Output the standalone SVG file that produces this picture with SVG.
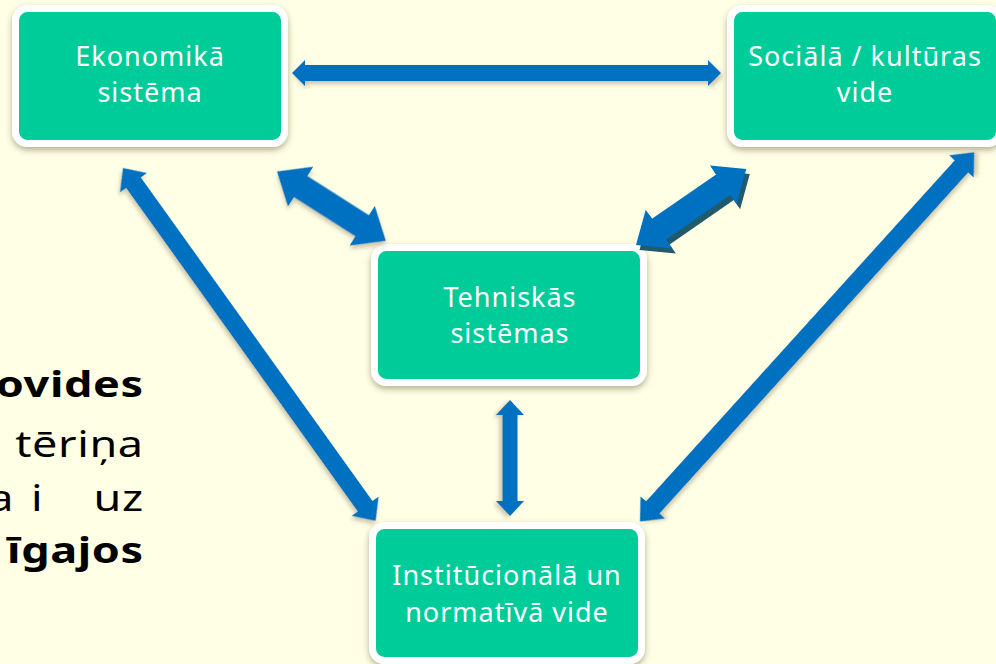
<svg xmlns="http://www.w3.org/2000/svg" width="996" height="664" viewBox="0 0 996 664">
  <defs>
    <filter id="nodeShadow" x="-10%" y="-10%" width="120%" height="130%">
      <feDropShadow dx="0" dy="3" stdDeviation="3" flood-color="#5a4a2a" flood-opacity="0.45"/>
    </filter>
    <filter id="arrowShadow" x="-10%" y="-10%" width="120%" height="120%">
      <feDropShadow dx="2" dy="3" stdDeviation="2" flood-color="#6b5d3a" flood-opacity="0.35"/>
    </filter>
  </defs>
  <style>
    .box { fill: #00CC99; stroke: #FFFFFF; stroke-width: 7; filter: url(#nodeShadow); }
    .lbl { font-family: "Comic Sans MS", "Noto Sans", "DejaVu Sans", sans-serif; font-size: 27px; fill: #FFFFFF; text-anchor: middle; letter-spacing: 1px; }
    .arr { fill: #0070C0; filter: url(#arrowShadow); }
    .arrdark { fill: #215A6B; }
    .side { font-family: "Comic Sans MS", "Noto Sans", "DejaVu Sans", sans-serif; font-size: 36px; fill: #000000; text-anchor: end; letter-spacing: 0.5px; }
    .bold { font-weight: bold; }
  </style>
  <rect x="0" y="0" width="996" height="664" fill="#FFFFE5"/>

  <g id="side-text" transform="scale(1.25,1)">
    <text class="side bold" x="115" y="397">ovides</text>
    <text class="side" x="115" y="457">tēriņa</text>
    <text class="side"><tspan x="48" y="511" style="letter-spacing:14px">ai</tspan><tspan x="115" y="511">uz</tspan></text>
    <text class="side bold" x="115" y="563">īgajos</text>
  </g>

  <g id="node-ekonomika">
    <rect class="box" x="15.5" y="8.5" width="269" height="135" rx="12"/>
    <text class="lbl" x="150" y="66">Ekonomikā</text>
    <text class="lbl" x="150" y="102">sistēma</text>
  </g>
  <g id="node-sociala">
    <rect class="box" x="730.5" y="8.5" width="269" height="135" rx="12"/>
    <text class="lbl" x="865" y="66">Sociālā / kultūras</text>
    <text class="lbl" x="865" y="102">vide</text>
  </g>
  <g id="node-tehniskas">
    <rect class="box" x="374.5" y="247.5" width="269" height="135" rx="12"/>
    <text class="lbl" x="510" y="307">Tehniskās</text>
    <text class="lbl" x="510" y="343">sistēmas</text>
  </g>
  <g id="node-institucionala">
    <rect class="box" x="372.5" y="525.5" width="269" height="135" rx="12"/>
    <text class="lbl" x="507" y="585">Institūcionālā un</text>
    <text class="lbl" x="507" y="622">normatīvā vide</text>
  </g>

  <g id="connectors">
    <path class="arr" transform="translate(292,73)" d="M0,0 L13,-13 L13,-8 L416,-8 L416,-13 L429,0 L416,13 L416,8 L13,8 L13,13 Z"/>
    <path class="arr" transform="translate(277,171.5) rotate(32.5)" d="M0,0 L28,-23.5 L28,-12.5 L101,-12.5 L101,-23.5 L129,0 L101,23.5 L101,12.5 L28,12.5 L28,23.5 Z"/>
    <path class="arrdark" transform="translate(639.5,250) rotate(-34.6)" d="M0,0 L28,-23.5 L28,-12.5 L106,-12.5 L106,-23.5 L134,0 L106,23.5 L106,12.5 L28,12.5 L28,23.5 Z"/>
    <path fill="#0070C0" transform="translate(636,245) rotate(-34.6)" d="M0,0 L28,-23.5 L28,-12.5 L106,-12.5 L106,-23.5 L134,0 L106,23.5 L106,12.5 L28,12.5 L28,23.5 Z"/>
    <path class="arr" transform="translate(123,168) rotate(54.4)" d="M0,0 L18,-16.5 L18,-9 L416,-9 L416,-16.5 L434,0 L416,16.5 L416,9 L18,9 L18,16.5 Z"/>
    <path class="arr" transform="translate(640,521.5) rotate(-47.85)" d="M0,0 L19,-16.5 L19,-9 L479,-9 L479,-16.5 L498,0 L479,16.5 L479,9 L19,9 L19,16.5 Z"/>
    <path class="arr" transform="translate(510,400) rotate(90)" d="M0,0 L15,-14 L15,-7.5 L101,-7.5 L101,-14 L116,0 L101,14 L101,7.5 L15,7.5 L15,14 Z"/>
  </g>
</svg>
